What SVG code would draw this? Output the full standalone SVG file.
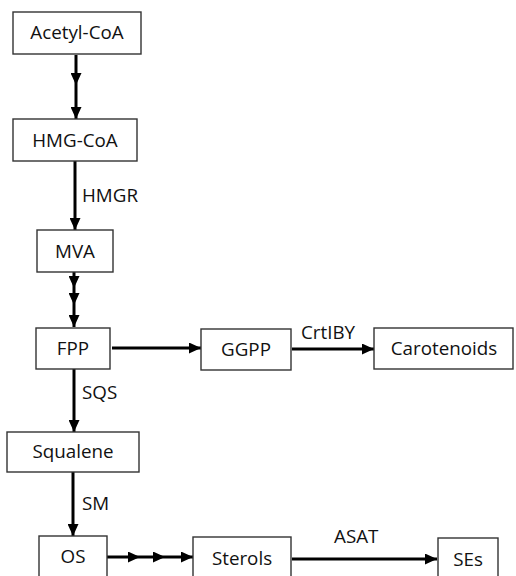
<svg xmlns="http://www.w3.org/2000/svg" width="516" height="576" viewBox="0 0 516 576">
<defs>
<marker id="ah" markerUnits="userSpaceOnUse" markerWidth="12" markerHeight="11" refX="12" refY="5.5" orient="auto">
<path d="M0,0 L12,5.5 L0,11 z" fill="#000"/>
</marker>
<style>
.box{fill:#fff;stroke:#333;stroke-width:1.4}
.t{font-family:"Open Sans","Liberation Sans",sans-serif;font-size:18.8px;fill:#111}
.c{text-anchor:middle}
.e{stroke:#000;stroke-width:3;fill:none;marker-end:url(#ah)}
</style>
</defs>
<rect width="516" height="576" fill="#fff"/>
<g id="connectors">
<path class="e" d="M76,55 V85"/>
<path class="e" d="M76,85 V119"/>
<path class="e" d="M75,161 V230"/>
<path class="e" d="M74,272 V288"/>
<path class="e" d="M74,288 V305"/>
<path class="e" d="M74,305 V327"/>
<path class="e" d="M112,348 H201"/>
<path class="e" d="M292,349 H374"/>
<path class="e" d="M74,369 V432"/>
<path class="e" d="M73,472 V536"/>
<path class="e" d="M107,557 H140"/>
<path class="e" d="M140,557 H165"/>
<path class="e" d="M165,557 H193"/>
<path class="e" d="M292,559 H437"/>
<text class="t" x="82" y="202">HMGR</text>
<text class="t" x="301" y="339">CrtIBY</text>
<text class="t" x="82" y="399">SQS</text>
<text class="t" x="82" y="510">SM</text>
<text class="t" x="334" y="543">ASAT</text>
</g>
<g id="acetylcoa"><rect class="box" x="13" y="12" width="128" height="42"/><text class="t c" x="77" y="39">Acetyl-CoA</text></g>
<g id="hmgcoa"><rect class="box" x="13" y="119" width="124" height="42"/><text class="t c" x="75" y="147">HMG-CoA</text></g>
<g id="mva"><rect class="box" x="37" y="230" width="76" height="42"/><text class="t c" x="75" y="258">MVA</text></g>
<g id="fpp"><rect class="box" x="36" y="328" width="74" height="41"/><text class="t c" x="73" y="355">FPP</text></g>
<g id="ggpp"><rect class="box" x="201" y="329" width="90" height="41"/><text class="t c" x="246" y="356">GGPP</text></g>
<g id="carotenoids"><rect class="box" x="374" y="328" width="139" height="41"/><text class="t c" x="444" y="355">Carotenoids</text></g>
<g id="squalene"><rect class="box" x="7" y="432" width="132" height="40"/><text class="t c" x="73" y="458">Squalene</text></g>
<g id="os"><rect class="box" x="39" y="536" width="68" height="50"/><text class="t c" x="73" y="563">OS</text></g>
<g id="sterols"><rect class="box" x="193" y="537" width="98" height="50"/><text class="t c" x="242" y="565">Sterols</text></g>
<g id="ses"><rect class="box" x="438" y="538" width="60" height="50"/><text class="t c" x="468" y="566">SEs</text></g>
</svg>
